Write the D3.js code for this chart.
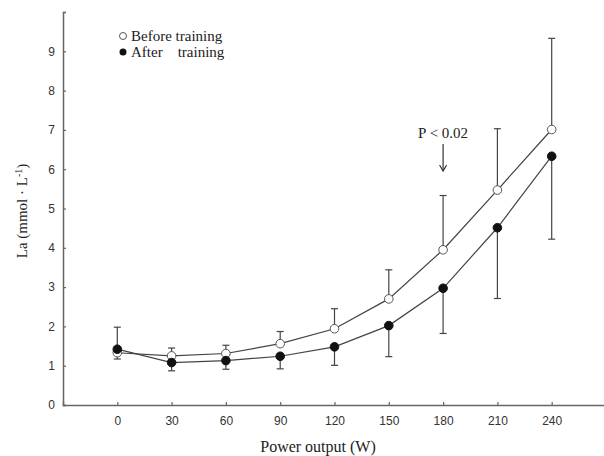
<!DOCTYPE html>
<html><head><meta charset="utf-8">
<script src="https://cdn.jsdelivr.net/npm/d3@7"></script>
<style>body{margin:0;background:#fff}svg{display:block}</style>
</head><body><svg id="c" width="604" height="456"></svg>
<script>
const power = [0, 30, 60, 90, 120, 150, 180, 210, 240];
const beforeMean = [1.33, 1.25, 1.31, 1.56, 1.94, 2.70, 3.95, 5.47, 7.01];
const beforeUpper = [1.98, 1.45, 1.52, 1.87, 2.45, 3.44, 5.33, 7.03, 9.33];
const afterMean = [1.42, 1.08, 1.13, 1.24, 1.48, 2.02, 2.97, 4.51, 6.33];
const afterLower = [1.17, 0.87, 0.91, 0.92, 1.01, 1.23, 1.82, 2.71, 4.22];
const xTicks = [0, 30, 60, 90, 120, 150, 180, 210, 240];
const yTicks = [0, 1, 2, 3, 4, 5, 6, 7, 8, 9, 10];
const yTickLabels = ["0", "1", "2", "3", "4", "5", "6", "7", "8", "9", ""];

const svg = d3.select("#c");
const x = d3.scaleLinear().domain([-30, 270]).range([63, 606]);
const y = d3.scaleLinear().domain([0, 10]).range([405, 12]);
const axisCol = "#666", lineCol = "#444";

// axes
const gx = svg.append("g").attr("transform", "translate(0,405)")
  .call(d3.axisBottom(x).tickValues(xTicks).tickSize(-3).tickPadding(9));
const gy = svg.append("g").attr("transform", "translate(63,0)")
  .call(d3.axisLeft(y).tickValues(yTicks).tickFormat((d, i) => yTickLabels[i]).tickSize(-3).tickPadding(8));
[gx, gy].forEach(g => {
  g.select(".domain").attr("stroke", axisCol).attr("stroke-width", 1.5);
  g.selectAll(".tick line").attr("stroke", axisCol).attr("stroke-width", 1.2);
  g.selectAll(".tick text").attr("fill", "#333").style("font-family", "Liberation Sans, Arial, sans-serif").style("font-size", "12px");
});
gx.selectAll(".tick text").attr("dy", "0.9em");

// error bars
const capW = 3.5;
function errBar(xv, y0, y1) {
  const g = svg.append("g").attr("stroke", lineCol).attr("stroke-width", 1.2);
  g.append("line").attr("x1", x(xv)).attr("x2", x(xv)).attr("y1", y(y0)).attr("y2", y(y1));
  g.append("line").attr("x1", x(xv) - capW).attr("x2", x(xv) + capW).attr("y1", y(y1)).attr("y2", y(y1));
}
power.forEach((p, i) => { errBar(p, beforeMean[i], beforeUpper[i]); errBar(p, afterMean[i], afterLower[i]); });

// lines
const line = d3.line().x(d => x(d[0])).y(d => y(d[1]));
svg.append("path").datum(power.map((p, i) => [p, beforeMean[i]])).attr("d", line)
  .attr("fill", "none").attr("stroke", lineCol).attr("stroke-width", 1.2);
svg.append("path").datum(power.map((p, i) => [p, afterMean[i]])).attr("d", line)
  .attr("fill", "none").attr("stroke", lineCol).attr("stroke-width", 1.2);

// markers
svg.selectAll(".b").data(power.map((p, i) => [p, beforeMean[i]])).join("circle")
  .attr("cx", d => x(d[0])).attr("cy", d => y(d[1])).attr("r", 4.3)
  .attr("fill", "#fff").attr("stroke", "#555").attr("stroke-width", 1);
svg.selectAll(".a").data(power.map((p, i) => [p, afterMean[i]])).join("circle")
  .attr("cx", d => x(d[0])).attr("cy", d => y(d[1])).attr("r", 4.3)
  .attr("fill", "#111").attr("stroke", "#111").attr("stroke-width", 1);

const serif = "Liberation Serif, Times New Roman, serif";
// legend
svg.append("circle").attr("cx", 123).attr("cy", 36).attr("r", 3.5).attr("fill", "#fff").attr("stroke", "#555");
svg.append("circle").attr("cx", 123).attr("cy", 52).attr("r", 3.5).attr("fill", "#111");
svg.append("text").attr("x", 131).attr("y", 41).attr("font-family", serif).attr("font-size", 15).attr("fill", "#222").text("Before training");
svg.append("text").attr("x", 131).attr("y", 57).attr("font-family", serif).attr("font-size", 15).attr("fill", "#222")
  .attr("xml:space", "preserve").style("white-space", "pre").text("After    training");

// annotation
const ax = x(180);
svg.append("text").attr("x", ax).attr("y", 138).attr("text-anchor", "middle").attr("font-family", serif)
  .attr("font-size", 15).attr("fill", "#222").text("P < 0.02");
svg.append("line").attr("x1", ax).attr("x2", ax).attr("y1", 144).attr("y2", 171).attr("stroke", "#333").attr("stroke-width", 1.2);
svg.append("path").attr("d", `M${ax-3.5},${165} L${ax},${171} L${ax+3.5},${165}`).attr("fill", "none").attr("stroke", "#333").attr("stroke-width", 1.2);

// axis titles
svg.append("text").attr("x", 318).attr("y", 452).attr("text-anchor", "middle").attr("font-family", serif)
  .attr("font-size", 16).attr("fill", "#222").text("Power output (W)");
const yt = svg.append("text").attr("transform", "translate(27,211) rotate(-90)").attr("text-anchor", "middle")
  .attr("font-family", serif).attr("font-size", 15).attr("fill", "#222");
yt.append("tspan").text("La (mmol · L");
yt.append("tspan").attr("dy", -5).attr("font-size", 10).text("-1");
yt.append("tspan").attr("dy", 5).text(")");
</script></body></html>
